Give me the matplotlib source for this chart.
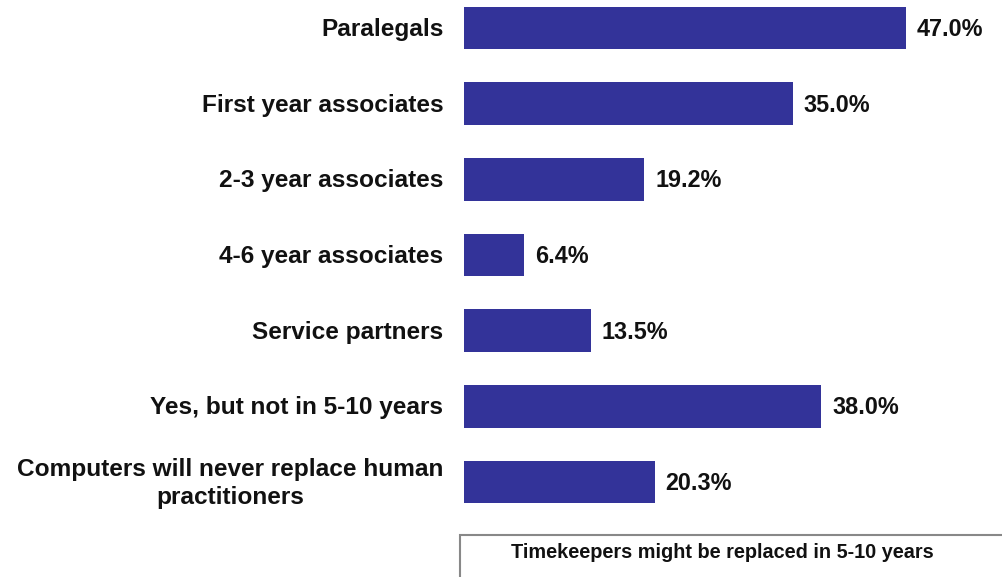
import matplotlib
matplotlib.use("Agg")
import matplotlib.pyplot as plt
from matplotlib.patches import Rectangle
from matplotlib import font_manager

categories = [
    "Paralegals",
    "First year associates",
    "2-3 year associates",
    "4-6 year associates",
    "Service partners",
    "Yes, but not in 5-10 years",
    "Computers will never replace human\npractitioners",
]
values = [47.0, 35.0, 19.2, 6.4, 13.5, 38.0, 20.3]
legend_label = "Timekeepers might be replaced in 5-10 years"

plt.rcParams["font.family"] = ["Liberation Sans", "DejaVu Sans"]
names = {f.name for f in font_manager.fontManager.ttflist}
has_narrow = "Liberation Sans Narrow" in names

W, H = 1003, 577
fig = plt.figure(figsize=(W / 100, H / 100), dpi=100)
ax_left = 464 / W
ax = fig.add_axes([ax_left, 0, 1 - ax_left, 1])
ax.set_xlim(0, (W - 464) / 9.4)
sp = 75.67
ax.set_ylim((H - 28) / sp, -28 / sp)

bar_color = "#333399"
ys = list(range(len(categories)))
ax.barh(ys, values, height=0.56, color=bar_color)
for y, v, c in zip(ys, values, categories):
    if has_narrow:
        ax.text(v + 1.15, y + 0.02, f"{v:.1f}%", va="center", ha="left",
                fontsize=19, fontweight="bold", color="#111111",
                family=["Liberation Sans Narrow", "Liberation Sans"])
    else:
        ax.text(v + 1.15, y + 0.02, f"{v:.1f}%", va="center", ha="left",
                fontsize=16.8, fontweight="bold", color="#111111")
    ax.text(-2.2, y + 0.02, c, va="center", ha="right",
            fontsize=17.6, fontweight="bold", color="#111111",
            multialignment="center", linespacing=1.3)
ax.axis("off")

rect = Rectangle((460 / W, -20 / H), 560 / W, (42 + 20) / H,
                 transform=fig.transFigure, fill=False,
                 edgecolor="#888888", linewidth=1.5, clip_on=False)
fig.patches.append(rect)
fig.text(722 / W, 1 - 553 / H, legend_label, ha="center", va="center",
         fontsize=14.3, fontweight="bold", color="#111111")

fig.savefig("out.png", dpi=100, facecolor="white")
